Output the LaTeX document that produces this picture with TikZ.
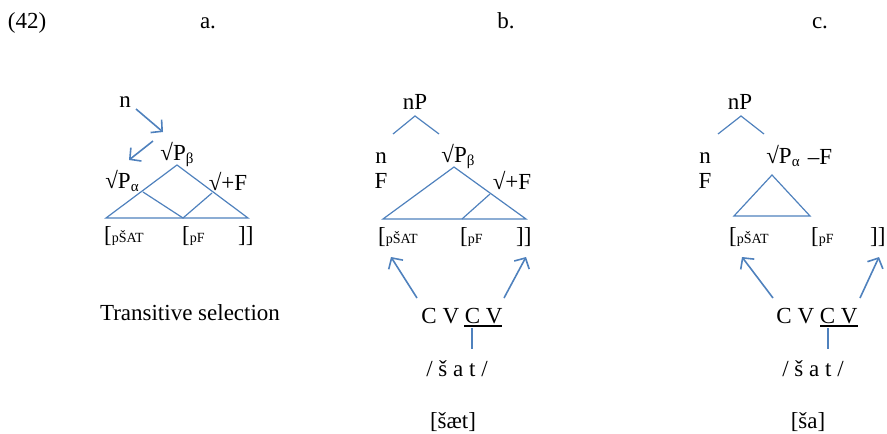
\documentclass[tikz,border=0pt]{standalone}
\usepackage{fontspec}
\setmainfont{Liberation Serif}
\usetikzlibrary{arrows.meta}
\definecolor{lblue}{HTML}{4F81BD}
\tikzset{
  txt/.style={inner sep=0pt,font=\fontsize{23}{26}\selectfont},
  hd/.style={inner sep=0pt,anchor=base,font=\fontsize{23}{26}\selectfont},
  br/.style={inner sep=0pt,anchor=west,font=\fontsize{23}{26}\selectfont},
  bl/.style={draw=lblue,line width=1.2pt},
  arr/.style={draw=lblue,line width=1.6pt,-{Straight Barb[length=8pt,width=17pt,line width=1.6pt]}},
  ul/.style={draw=black,line width=1.6pt}
}
\newcommand{\sm}[1]{{\fontsize{14}{14}\selectfont #1}}
\newcommand{\sbs}[1]{\raisebox{-3pt}{\fontsize{15}{15}\selectfont #1}}
\begin{document}
\begin{tikzpicture}[x=1pt,y=-1pt]
\useasboundingbox (0,0) rectangle (887,434);
% headers
\node[hd] (ex) at (27,28) {(42)};
\node[hd] (ha) at (208,28) {a.};
\node[hd] (hb) at (506,28) {b.};
\node[hd] (hc) at (820,28) {c.};
% ---------- panel a
\node[txt] (an) at (125,102) {n};
\node[txt] (aPb) at (177,154) {√P\sbs{β}};
\node[txt] (aPa) at (122,181) {√P\sbs{α}};
\node[txt] (aF) at (228,181) {√+F};
\coordinate (an1) at (136,109);
\coordinate (an2) at (163,132);
\coordinate (an3) at (153,141);
\coordinate (an4) at (129,160);
\draw[arr] (an1) -- (an2);
\draw[arr] (an3) -- (an4);
\coordinate (aT) at (177,165);
\coordinate (aL) at (106,218);
\coordinate (aR) at (248,218);
\coordinate (aM1) at (143,192);
\coordinate (aB) at (183,218);
\coordinate (aM2) at (212,193);
\draw[bl] (aL) -- (aT) -- (aR) -- cycle;
\draw[bl] (aM1) -- (aB) -- (aM2);
\node[br] (ab1) at (104,236) {[\sm{pŠAT}};
\node[br] (ab2) at (182,236) {[\sm{pF}};
\node[br] (ab3) at (238,236) {]]};
\node[txt] (atr) at (190,313) {Transitive selection};
% ---------- panel b
\node[txt] (bnP) at (415,102) {nP};
\coordinate (bnl) at (393,134);
\coordinate (bnt) at (415,116);
\coordinate (bnr) at (439,134);
\draw[bl] (bnl) -- (bnt) -- (bnr);
\node[txt] (bn) at (381,158) {n};
\node[txt] (bF) at (381,181) {F};
\node[txt] (bPb) at (458,156) {√P\sbs{β}};
\node[txt] (bpF) at (512,180) {√+F};
\coordinate (bT) at (454,167);
\coordinate (bL) at (383,219);
\coordinate (bR) at (526,219);
\coordinate (bB) at (462,219);
\coordinate (bM) at (490,194);
\draw[bl] (bL) -- (bT) -- (bR) -- cycle;
\draw[bl] (bB) -- (bM);
\node[br] (bb1) at (378,237) {[\sm{pŠAT}};
\node[br] (bb2) at (460,237) {[\sm{pF}};
\node[br] (bb3) at (516,237) {]]};
\node[txt] (bcv) at (462,316) {C V C V};
\coordinate (bu1) at (464,326);
\coordinate (bu2) at (502,326);
\draw[ul] (bu1) -- (bu2);
\coordinate (bv1) at (472,328);
\coordinate (bv2) at (472,349);
\draw[bl] (bv1) -- (bv2);
\coordinate (ba1) at (417,298);
\coordinate (ba2) at (391,257);
\coordinate (ba3) at (504,298);
\coordinate (ba4) at (526,257);
\draw[arr] (ba1) -- (ba2);
\draw[arr] (ba3) -- (ba4);
\node[txt] (bsat) at (457,369) {/ š a t /};
\node[txt] (bres) at (453,422) {[šæt]};
% ---------- panel c
\node[txt] (cnP) at (740,102) {nP};
\coordinate (cnl) at (718,134);
\coordinate (cnt) at (741,116);
\coordinate (cnr) at (764,134);
\draw[bl] (cnl) -- (cnt) -- (cnr);
\node[txt] (cn) at (705,158) {n};
\node[txt] (cF) at (705,181) {F};
\node[txt] (cPa) at (783,156) {√P\sbs{α}};
\node[txt] (cmF) at (820,157) {–F};
\coordinate (cT) at (772,175);
\coordinate (cL) at (734,216);
\coordinate (cR) at (810,216);
\draw[bl] (cL) -- (cT) -- (cR) -- cycle;
\node[br] (cb1) at (729,237) {[\sm{pŠAT}};
\node[br] (cb2) at (811,237) {[\sm{pF}};
\node[br] (cb3) at (870,237) {]]};
\node[txt] (ccv) at (817,316) {C V C V};
\coordinate (cu1) at (820,326);
\coordinate (cu2) at (858,326);
\draw[ul] (cu1) -- (cu2);
\coordinate (cv1) at (828,328);
\coordinate (cv2) at (828,349);
\draw[bl] (cv1) -- (cv2);
\coordinate (ca1) at (773,298);
\coordinate (ca2) at (742,257);
\coordinate (ca3) at (860,298);
\coordinate (ca4) at (879,257);
\draw[arr] (ca1) -- (ca2);
\draw[arr] (ca3) -- (ca4);
\node[txt] (csat) at (813,369) {/ š a t /};
\node[txt] (cres) at (808,422) {[ša]};
\end{tikzpicture}
\end{document}
